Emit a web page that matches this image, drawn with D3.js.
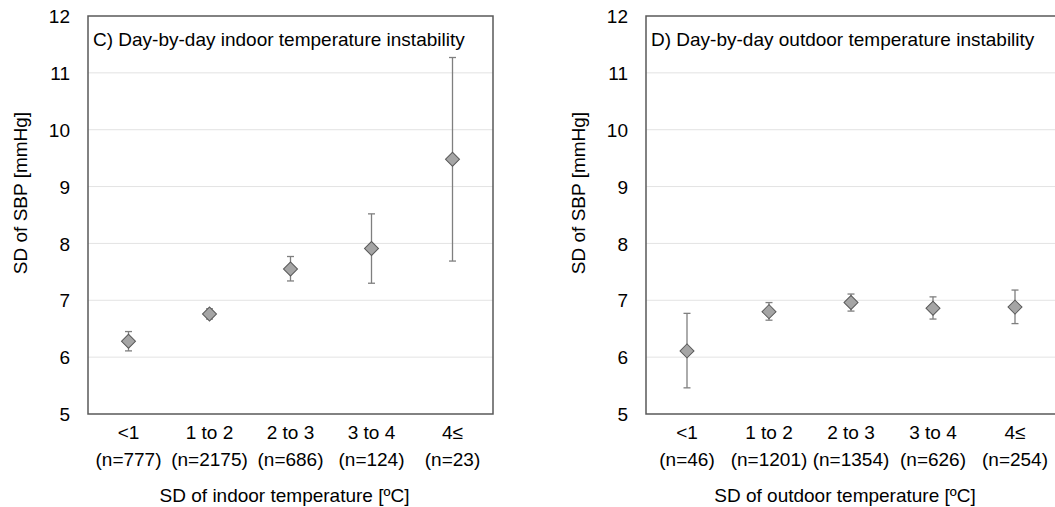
<!DOCTYPE html>
<html lang="en">
<head>
  <meta charset="UTF-8">
  <title>SD of SBP by temperature instability</title>
  <style type="text/css">
    body { margin: 0px; background: #fff; }
    svg text { font-family: "Liberation Sans", Arial, sans-serif; fill: #000; }
    .tick text { font-size: 19px; }
    .grid line { stroke: #e3e3e3; stroke-width: 1; }
    .domain { display: none; }
  </style>
  <script src="https://d3js.org/d3.v7.min.js"></script>
</head>
<body>
  <svg width="1055" height="507"></svg>
  <script>

    const categories = ['<1', '1 to 2', '2 to 3', '3 to 4', '4≤'];
    const yTicks = [5, 6, 7, 8, 9, 10, 11, 12];

    const indoorN     = [777, 2175, 686, 124, 23];
    const indoorMean  = [6.28, 6.76, 7.55, 7.91, 9.48];
    const indoorLow   = [6.11, 6.67, 7.34, 7.30, 7.69];
    const indoorHigh  = [6.45, 6.85, 7.77, 8.52, 11.27];

    const outdoorN    = [46, 1201, 1354, 626, 254];
    const outdoorMean = [6.11, 6.80, 6.96, 6.86, 6.88];
    const outdoorLow  = [5.46, 6.65, 6.81, 6.67, 6.59];
    const outdoorHigh = [6.77, 6.96, 7.11, 7.06, 7.18];

    const panels = [
      { title: 'C) Day-by-day indoor temperature instability', xLabel: 'SD of indoor temperature [ºC]',
        n: indoorN, mean: indoorMean, low: indoorLow, high: indoorHigh, left: 88, right: 493, labelX: 20 },
      { title: 'D) Day-by-day outdoor temperature instability', xLabel: 'SD of outdoor temperature [ºC]',
        n: outdoorN, mean: outdoorMean, low: outdoorLow, high: outdoorHigh, left: 646, right: 1056, labelX: 578 }
    ];

    const svg = d3.select('svg');
    const plotTop = 16, plotBottom = 414;

    const y = d3.scaleLinear().domain([5, 12]).range([plotBottom, plotTop]);

    panels.forEach(p => {
      const g = svg.append('g');
      const x = d3.scaleBand().domain(categories).range([p.left, p.right]);
      const cx = c => x(c) + x.bandwidth() / 2;

      const rows = categories.map((c, i) => ({
        cat: c, n: p.n[i], mean: p.mean[i], low: p.low[i], high: p.high[i]
      }));

      // gridlines
      g.append('g').attr('class', 'grid')
        .selectAll('line').data(yTicks.filter(t => t > 5 && t < 12))
        .enter().append('line')
          .attr('x1', p.left).attr('x2', p.right)
          .attr('y1', d => y(d)).attr('y2', d => y(d));

      // y axis labels
      g.append('g')
          .attr('transform', `translate(${p.left},0)`)
          .call(d3.axisLeft(y).tickValues(yTicks).tickFormat(d3.format('d')).tickSize(0).tickPadding(18))
          .call(a => a.selectAll('text').attr('dy', '0.35em'));

      // frame
      g.append('rect')
          .attr('x', p.left).attr('y', plotTop)
          .attr('width', p.right - p.left).attr('height', plotBottom - plotTop)
          .attr('fill', 'none').attr('stroke', '#595959').attr('stroke-width', 1.5);

      // x tick labels (two lines)
      const xl = g.append('g').selectAll('text').data(rows).enter().append('text')
          .attr('text-anchor', 'middle').attr('font-size', 19);
      xl.append('tspan').attr('x', d => cx(d.cat)).attr('y', 439).text(d => d.cat);
      xl.append('tspan').attr('x', d => cx(d.cat)).attr('y', 466).text(d => `(n=${d.n})`);

      // axis titles
      g.append('text')
          .attr('x', (p.left + p.right) / 2 - 6).attr('y', 502)
          .attr('text-anchor', 'middle').attr('font-size', 19)
          .text(p.xLabel);

      g.append('text')
          .attr('transform', `translate(${p.labelX + 7},193) rotate(-90)`)
          .attr('text-anchor', 'middle').attr('font-size', 19)
          .text('SD of SBP [mmHg]');

      g.append('text')
          .attr('x', p.left + 5).attr('y', 46)
          .attr('font-size', 19)
          .text(p.title);

      // error bars
      const eb = g.append('g').selectAll('g').data(rows).enter().append('g')
          .attr('stroke', '#7f7f7f').attr('stroke-width', 1.3);
      eb.append('line')
          .attr('x1', d => cx(d.cat)).attr('x2', d => cx(d.cat))
          .attr('y1', d => y(d.low)).attr('y2', d => y(d.high));
      eb.append('line')
          .attr('x1', d => cx(d.cat) - 3.5).attr('x2', d => cx(d.cat) + 3.5)
          .attr('y1', d => y(d.low)).attr('y2', d => y(d.low));
      eb.append('line')
          .attr('x1', d => cx(d.cat) - 3.5).attr('x2', d => cx(d.cat) + 3.5)
          .attr('y1', d => y(d.high)).attr('y2', d => y(d.high));

      // diamonds
      const diamond = d3.symbol().type(d3.symbolSquare).size(98);
      g.append('g').selectAll('path').data(rows).enter().append('path')
          .attr('d', diamond)
          .attr('transform', d => `translate(${cx(d.cat)},${y(d.mean)}) rotate(45)`)
          .attr('fill', '#a5a5a5').attr('stroke', '#595959').attr('stroke-width', 1);
    });

  </script>
</body>
</html>
